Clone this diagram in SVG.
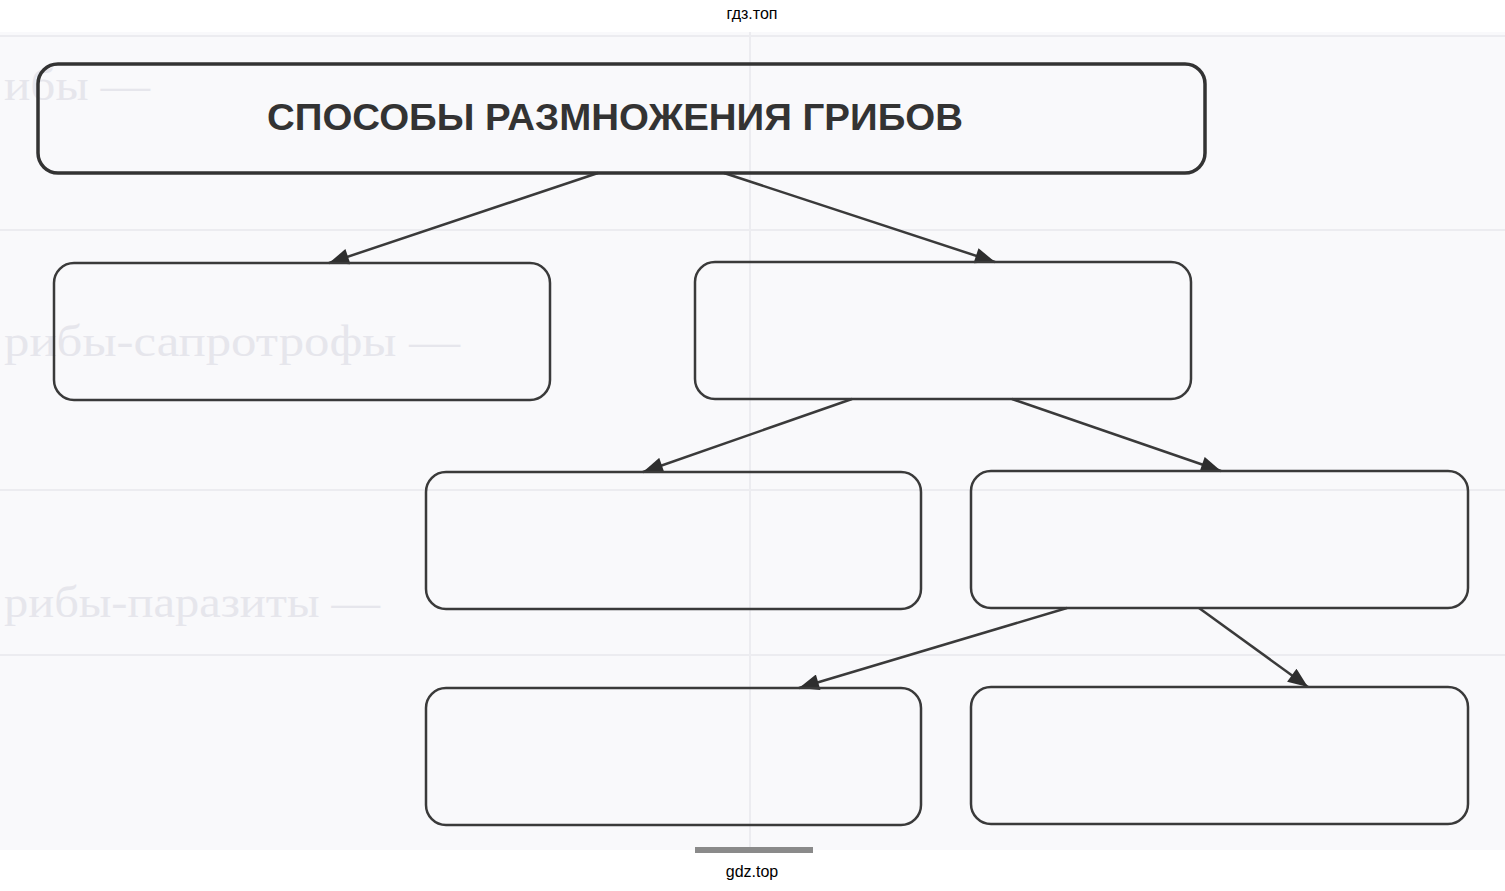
<svg xmlns="http://www.w3.org/2000/svg" width="1505" height="891" viewBox="0 0 1505 891">
<defs>
<style>
.box{fill:none;stroke:#3a3a3a;stroke-width:2.5}
.top{fill:none;stroke:#333;stroke-width:3.5}
.conn{stroke:#3a3a3a;stroke-width:2.5;fill:none}
.ghost{font-family:"Liberation Serif",serif;font-size:44px;fill:#e6e6ec}
.wm{font-family:"Liberation Sans",Arial,sans-serif;font-size:16px;fill:#000}
.rule{stroke:#ececf0;stroke-width:2}
</style>
<marker id="ah" viewBox="0 0 20 16" refX="20" refY="8" markerWidth="22" markerHeight="16" markerUnits="userSpaceOnUse" orient="auto">
<path d="M0,0 L20,8 L0,16 z" fill="#2e2e2e"/>
</marker>
</defs>
<rect x="0" y="0" width="1505" height="891" fill="#ffffff"/>
<rect x="0" y="32" width="1505" height="818" fill="#f9f9fb"/>
<g id="background">
<line class="rule" x1="750" y1="32" x2="750" y2="850"/>
<line class="rule" x1="0" y1="36" x2="1505" y2="36"/>
<line class="rule" x1="0" y1="230" x2="1505" y2="230"/>
<line class="rule" x1="0" y1="490" x2="1505" y2="490"/>
<line class="rule" x1="0" y1="655" x2="1505" y2="655"/>
<text class="ghost" x="4" y="100" textLength="146" lengthAdjust="spacingAndGlyphs">ибы —</text>
<text class="ghost" x="4" y="356" textLength="456" lengthAdjust="spacingAndGlyphs">рибы-сапротрофы —</text>
<text class="ghost" x="4" y="617" textLength="376" lengthAdjust="spacingAndGlyphs">рибы-паразиты —</text>
</g>
<text class="wm" x="752" y="19" text-anchor="middle">гдз.топ</text>
<g id="connectors">
<line class="conn" x1="598" y1="173" x2="329" y2="263" marker-end="url(#ah)"/>
<line class="conn" x1="724" y1="173" x2="995" y2="262" marker-end="url(#ah)"/>
<line class="conn" x1="852" y1="399" x2="643" y2="472" marker-end="url(#ah)"/>
<line class="conn" x1="1012" y1="399" x2="1221" y2="471" marker-end="url(#ah)"/>
<line class="conn" x1="1067" y1="608" x2="799" y2="688" marker-end="url(#ah)"/>
<line class="conn" x1="1199" y1="608" x2="1308" y2="687" marker-end="url(#ah)"/>
</g>
<g id="title">
<rect class="top" x="38" y="64" width="1167" height="109" rx="20"/>
<text x="615" y="130" text-anchor="middle" font-family="Liberation Sans,Arial,sans-serif" font-weight="bold" font-size="36" fill="#333" textLength="696" lengthAdjust="spacingAndGlyphs">СПОСОБЫ РАЗМНОЖЕНИЯ ГРИБОВ</text>
</g>
<g id="n1"><rect class="box" x="54" y="263" width="496" height="137" rx="20"/></g>
<g id="n2"><rect class="box" x="695" y="262" width="496" height="137" rx="20"/></g>
<g id="n3"><rect class="box" x="426" y="472" width="495" height="137" rx="20"/></g>
<g id="n4"><rect class="box" x="971" y="471" width="497" height="137" rx="20"/></g>
<g id="n5"><rect class="box" x="426" y="688" width="495" height="137" rx="20"/></g>
<g id="n6"><rect class="box" x="971" y="687" width="497" height="137" rx="20"/></g>
<rect x="695" y="847" width="118" height="6" fill="#8a8a8a"/>
<text class="wm" x="752" y="877" text-anchor="middle" font-size="17">gdz.top</text>
</svg>
